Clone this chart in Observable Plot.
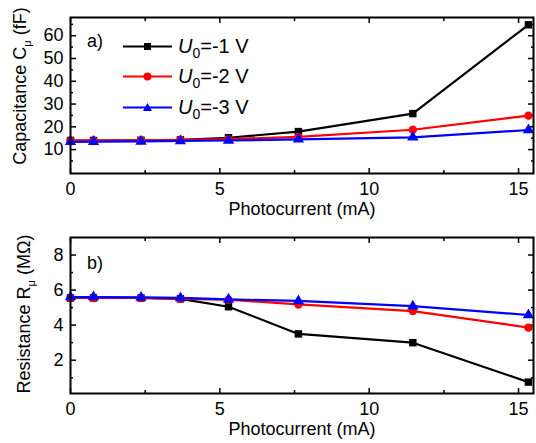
<!DOCTYPE html>
<html><head><meta charset="utf-8">
<script src="https://cdn.jsdelivr.net/npm/d3@7"></script>
<script src="https://cdn.jsdelivr.net/npm/@observablehq/plot@0.6"></script>
<style>
body{margin:0;background:#fff;font-family:Arial,"Liberation Sans",sans-serif;}
#root{position:relative;width:536px;height:443px;overflow:hidden;}
.panel{position:absolute;left:0;width:536px;}
.ylab{position:absolute;font-size:18px;line-height:18px;white-space:nowrap;transform:translate(-50%,-50%) rotate(-90deg);color:#000;}
.ylab sub{font-size:11px;vertical-align:-5px;line-height:0;}
.plab{position:absolute;font-size:18px;line-height:18px;color:#000;}
.legend{position:absolute;left:123px;top:31px;font-size:20px;color:#000;}
.legend .row{display:flex;align-items:center;height:30.5px;}
.legend svg{margin-right:5px;}
.legend sub{font-size:14px;vertical-align:-5px;line-height:0;}
</style>
</head><body>
<div id="root"></div>
<script>
const photocurrent = [0, 0.77, 2.36, 3.68, 5.29, 7.63, 11.46, 15.33];
const capU1 = [14.0, 14.0, 14.1, 14.3, 15.2, 17.9, 25.8, 64.8];
const capU2 = [14.0, 14.0, 14.1, 14.3, 14.6, 15.6, 18.7, 24.9];
const capU3 = [13.4, 13.5, 13.6, 13.8, 14.0, 14.5, 15.4, 18.6];
const resU1 = [5.55, 5.55, 5.55, 5.5, 5.05, 3.5, 3.0, 0.75];
const resU2 = [5.55, 5.55, 5.55, 5.5, 5.45, 5.18, 4.8, 3.86];
const resU3 = [5.6, 5.6, 5.58, 5.55, 5.47, 5.38, 5.08, 4.58];
const seriesNames = ["U0=-1 V", "U0=-2 V", "U0=-3 V"];
const seriesColors = ["#000000", "#ff0000", "#0000ff"];
const seriesSymbols = ["square", "circle", "triangle"];
const xTicks = [0, 5, 10, 15];
const xMinor = [2.5, 7.5, 12.5];
const capTicks = [10, 20, 30, 40, 50, 60];
const capMinor = [5, 15, 25, 35, 45, 55, 65];
const resTicks = [2, 4, 6, 8];
const resMinor = [1, 3, 5, 7];

function rows(series) {
  const out = [];
  series.forEach((vals, si) => vals.forEach((v, i) => out.push({x: photocurrent[i], y: v, s: seriesNames[si]})));
  return out;
}

function makePlot({data, yDomain, yTicks, yMinor, height, marginTop, marginBottom, labelDy}) {
  const ax = {strokeWidth: 1.5, label: null};
  const blank = () => "";
  return Plot.plot({
    width: 536, height, marginLeft: 70, marginRight: 3, marginTop, marginBottom,
    style: {fontSize: "18px", fontFamily: "Arial, 'Liberation Sans', sans-serif", color: "#000", background: "#fff"},
    x: {domain: [0, 15.5]},
    y: {domain: yDomain},
    color: {domain: seriesNames, range: seriesColors},
    symbol: {domain: seriesNames, range: seriesSymbols},
    marks: [
      Plot.axisX({...ax, anchor: "bottom", ticks: xTicks, tickSize: -5, tickPadding: 14}),
      Plot.axisX({...ax, anchor: "bottom", ticks: xMinor, tickSize: -3, tickFormat: blank}),
      Plot.axisX({...ax, anchor: "top", ticks: xTicks, tickSize: -5, tickFormat: blank}),
      Plot.axisX({...ax, anchor: "top", ticks: xMinor, tickSize: -3, tickFormat: blank}),
      Plot.axisY({...ax, anchor: "left", ticks: yTicks, tickSize: -6, tickPadding: 13}),
      Plot.axisY({...ax, anchor: "left", ticks: yMinor, tickSize: -3, tickFormat: blank}),
      Plot.axisY({...ax, anchor: "right", ticks: yTicks, tickSize: -6, tickFormat: blank}),
      Plot.axisY({...ax, anchor: "right", ticks: yMinor, tickSize: -3, tickFormat: blank}),
      Plot.line(data, {x: "x", y: "y", z: "s", stroke: "s", strokeWidth: 2.2}),
      Plot.dot(data, {x: "x", y: "y", fill: "s", symbol: "s", r: 4.2}),
      Plot.text(["Photocurrent (mA)"], {frameAnchor: "bottom", dy: labelDy, fontSize: 18, fill: "#000"}),
      Plot.frame({stroke: "#000", strokeWidth: 2})
    ]
  });
}

const root = document.getElementById("root");

const topPanel = document.createElement("div");
topPanel.className = "panel"; topPanel.style.top = "0px";
topPanel.appendChild(makePlot({data: rows([capU1, capU2, capU3]), yDomain: [-0.5, 68], yTicks: capTicks, yMinor: capMinor, height: 221, marginTop: 17, marginBottom: 48, labelDy: 41}));
root.appendChild(topPanel);

const botPanel = document.createElement("div");
botPanel.className = "panel"; botPanel.style.top = "221px";
botPanel.appendChild(makePlot({data: rows([resU1, resU2, resU3]), yDomain: [0.1, 9], yTicks: resTicks, yMinor: resMinor, height: 222, marginTop: 16, marginBottom: 50, labelDy: 41}));
root.appendChild(botPanel);

function addHTML(cls, html, styles) {
  const d = document.createElement("div");
  d.className = cls; d.innerHTML = html;
  Object.assign(d.style, styles);
  root.appendChild(d);
}
addHTML("ylab", "Capacitance C<sub>μ</sub> (fF)", {left: "20px", top: "86px"});
addHTML("ylab", "Resistance R<sub>μ</sub> (MΩ)", {left: "24px", top: "314px"});
addHTML("plab", "a)", {left: "87px", top: "32px"});
addHTML("plab", "b)", {left: "87px", top: "254px"});

const legendMarker = {
  square: '<rect x="21" y="3" width="7" height="7" />',
  circle: '<circle cx="24.5" cy="6.5" r="4" />',
  triangle: '<path d="M24.5 2 L29 10 L20 10 Z" />'
};
const leg = document.createElement("div");
leg.className = "legend";
seriesNames.forEach((n, i) => {
  const c = seriesColors[i];
  const parts = n.match(/^U0(.*)$/);
  leg.insertAdjacentHTML("beforeend",
    `<div class="row"><svg width="50" height="13"><line x1="0" x2="49" y1="6.5" y2="6.5" stroke="${c}" stroke-width="2.2"/><g fill="${c}">${legendMarker[seriesSymbols[i]]}</g></svg><span><i>U</i><sub>0</sub>${parts[1]}</span></div>`);
});
root.appendChild(leg);
</script>
</body></html>
